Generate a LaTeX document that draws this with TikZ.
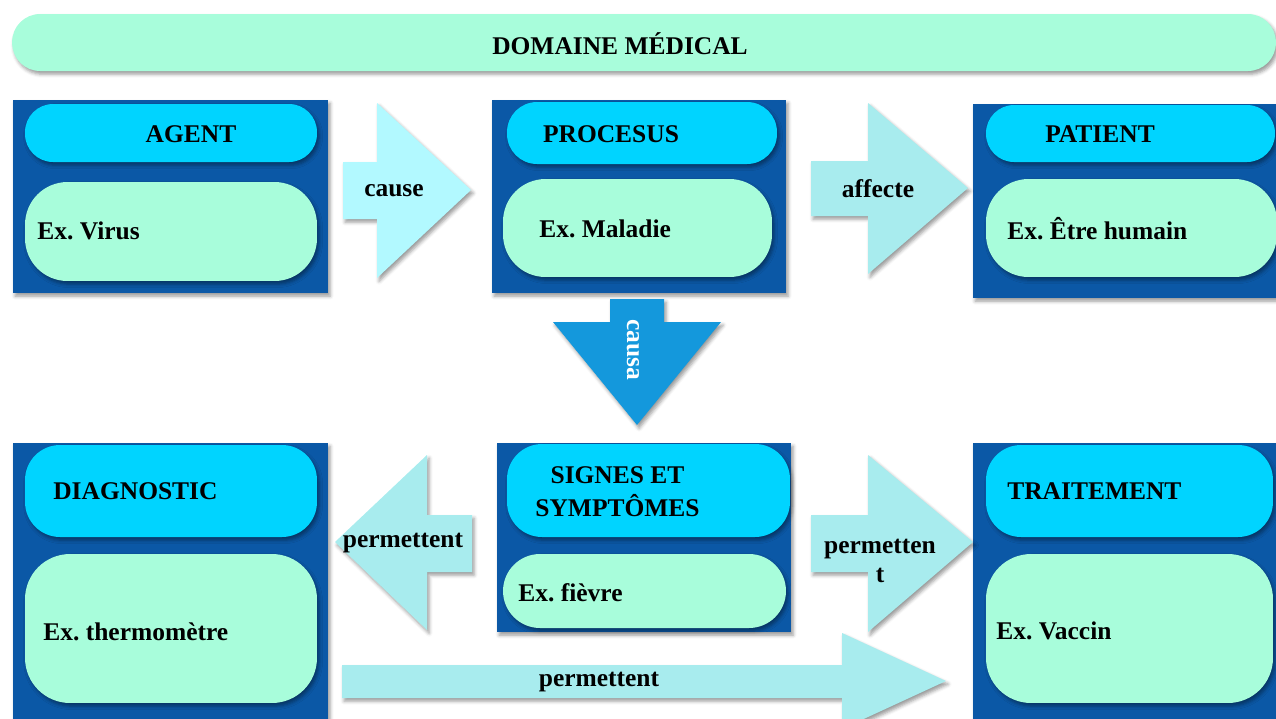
\documentclass[tikz,border=0pt]{standalone}
\usepackage{fontspec}
\setmainfont{Liberation Serif}
\usepackage{tikz}
\usetikzlibrary{shapes,positioning,shadows.blur}
\definecolor{frameblue}{RGB}{11,88,166}
\definecolor{headcyan}{RGB}{0,212,255}
\definecolor{bodymint}{RGB}{168,253,219}
\definecolor{causecyan}{RGB}{178,249,255}
\definecolor{arrowcyan}{RGB}{168,236,238}
\definecolor{causablue}{RGB}{20,152,220}
\frenchspacing

\begin{document}
\begin{tikzpicture}
                [
                    x=0.02cm, y=-0.02cm,
                    softshadow/.style={blur shadow={shadow xshift=1.2pt, shadow yshift=-1.8pt, shadow blur radius=2pt, shadow opacity=40}},
                    framebox/.style={rectangle, fill=frameblue, inner sep=0pt, softshadow},
                    headpill/.style={rectangle, fill=headcyan, inner sep=0pt, softshadow},
                    bodypill/.style={rectangle, fill=bodymint, inner sep=0pt, softshadow},
                    blockarrow/.style={fill=arrowcyan, softshadow},
                    titletext/.style={font=\bfseries\fontsize{14.5}{17}\selectfont, inner sep=0pt},
                    extext/.style={font=\bfseries\fontsize{14.5}{17}\selectfont, inner sep=0pt, anchor=west},
                ]
                \useasboundingbox (0,0) rectangle (1276,718);

                \node [bodypill, rounded corners=0.56cm, minimum width=25.28cm, minimum height=1.14cm] (domain) at (644,42.5) {};
                \node [titletext] (domaintext) at (620,44) {DOMAINE MÉDICAL};

                \node [framebox, minimum width=6.30cm, minimum height=3.86cm] (agent) at (170.5,196.5) {};
                \node [headpill, rounded corners=0.56cm, minimum width=5.84cm, minimum height=1.16cm] (agenthead) at (171,133) {};
                \node [bodypill, rounded corners=0.85cm, minimum width=5.84cm, minimum height=1.98cm] (agentbody) at (171,231.5) {};
                \node [titletext] (agenttitle) at (191,134) {AGENT};
                \node [extext] (agentex) at (37,231) {Ex. Virus};

                \node [framebox, minimum width=5.88cm, minimum height=3.86cm] (procesus) at (639,196.5) {};
                \node [headpill, rounded corners=0.6cm, minimum width=5.40cm, minimum height=1.24cm] (procesushead) at (642,133) {};
                \node [bodypill, rounded corners=0.85cm, minimum width=5.38cm, minimum height=1.96cm] (procesusbody) at (637.5,228) {};
                \node [titletext] (procesustitle) at (611,134) {PROCESUS};
                \node [extext] (procesusex) at (539,229) {Ex. Maladie};

                \node [framebox, minimum width=6.24cm, minimum height=3.88cm] (patient) at (1129,201) {};
                \node [headpill, rounded corners=0.56cm, minimum width=5.78cm, minimum height=1.14cm] (patienthead) at (1130.5,133.5) {};
                \node [bodypill, rounded corners=0.85cm, minimum width=5.82cm, minimum height=1.96cm] (patientbody) at (1131.5,228) {};
                \node [titletext] (patienttitle) at (1100,134) {PATIENT};
                \node [extext] (patientex) at (1007,229) {Ex. Être humain};

                \node [framebox, minimum width=6.30cm, minimum height=5.74cm] (diagnostic) at (170.5,586.5) {};
                \node [headpill, rounded corners=0.7cm, minimum width=5.84cm, minimum height=1.84cm] (diagnostichead) at (171,491) {};
                \node [bodypill, rounded corners=0.9cm, minimum width=5.84cm, minimum height=2.98cm] (diagnosticbody) at (171,628.5) {};
                \node [extext] (diagnostictitle) at (53,491) {DIAGNOSTIC};
                \node [extext] (diagnosticex) at (43,632) {Ex. thermomètre};

                \node [framebox, minimum width=5.88cm, minimum height=3.78cm] (signes) at (644,537.5) {};
                \node [headpill, rounded corners=0.7cm, minimum width=5.66cm, minimum height=1.86cm] (signeshead) at (648.5,490.5) {};
                \node [bodypill, rounded corners=0.74cm, minimum width=5.66cm, minimum height=1.48cm] (signesbody) at (644.5,591) {};
                \node [titletext, align=center, font=\bfseries\fontsize{14.5}{18.7}\selectfont] (signestitle) at (617.5,492) {SIGNES ET\\SYMPTÔMES};
                \node [extext] (signesex) at (518,593) {Ex. fièvre};

                \node [framebox, minimum width=6.24cm, minimum height=5.74cm] (traitement) at (1129,586.5) {};
                \node [headpill, rounded corners=0.7cm, minimum width=5.74cm, minimum height=1.84cm] (traitementhead) at (1129.5,491) {};
                \node [bodypill, rounded corners=0.9cm, minimum width=5.74cm, minimum height=2.98cm] (traitementbody) at (1129.5,628.5) {};
                \node [extext] (traitementtitle) at (1007,491) {TRAITEMENT};
                \node [extext] (traitementex) at (996,631) {Ex. Vaccin};

                \fill [blockarrow, fill=causecyan] (343,162) -- (377,162) -- (377,103) -- (471,190) -- (377,278) -- (377,219) -- (343,219) -- cycle;
                \node [titletext] (causetext) at (394,191) {cause};

                \fill [blockarrow] (811,161) -- (868,161) -- (868,103) -- (968,188) -- (868,274) -- (868,216) -- (811,216) -- cycle;
                \node [titletext] (affectetext) at (878,189) {affecte};

                \fill [blockarrow, fill=causablue] (610,299) -- (664,299) -- (664,322) -- (721,322) -- (637,425) -- (553,322) -- (610,322) -- cycle;
                \node [titletext, text=white, rotate=-90] (causatext) at (633,350) {causa};

                \fill [blockarrow] (472,515) -- (427,515) -- (427,455) -- (335,542) -- (427,630) -- (427,572) -- (472,572) -- cycle;
                \node [titletext] (permettentleft) at (403,543) {permettent};

                \fill [blockarrow] (811,515) -- (868,515) -- (868,455) -- (973,542) -- (868,632) -- (868,572) -- (811,572) -- cycle;
                \node [titletext, align=center, font=\bfseries\fontsize{14.5}{17}\selectfont] (permettentright) at (880,561) {permetten\\t};

                \fill [blockarrow] (342,665) -- (842,665) -- (842,633) -- (946,681) -- (842,729) -- (842,698) -- (342,698) -- cycle;
                \node [titletext] (permettentlong) at (599,682) {permettent};

            \end{tikzpicture}
\end{document}
